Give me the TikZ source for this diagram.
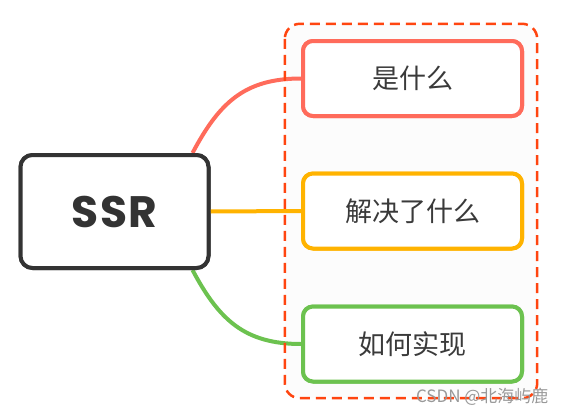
\documentclass[tikz,border=0pt]{standalone}
\usepackage{fontspec}
\newfontfamily\cjk{Noto Sans CJK SC}
\newfontfamily\popb{Poppins Bold}[LetterSpace=3]
\usetikzlibrary{calc}
\definecolor{cred}{HTML}{FF6B5B}
\definecolor{cdash}{HTML}{FF4510}
\definecolor{corange}{HTML}{FFB300}
\definecolor{cgreen}{HTML}{6CC24F}
\definecolor{ctext}{HTML}{3A3A3A}
\definecolor{cdark}{HTML}{333333}
\tikzset{
  branch/.style={rounded corners=10pt, line width=4pt, fill=white, minimum width=219pt, minimum height=75pt, inner sep=0pt, text=ctext, font=\cjk\fontsize{27}{30}\selectfont},
  central/.style={draw=cdark, line width=4pt, rounded corners=12pt, fill=white, minimum width=188pt, minimum height=113pt, inner sep=0pt, text=cdark, font=\popb\fontsize{44}{48}\selectfont},
  conn/.style={line width=4pt},
}
\begin{document}
\begin{tikzpicture}[x=1pt,y=-1pt]
\useasboundingbox (0,0) rectangle (567,415);
% dashed group background
\node[draw=none, fill=black!1, rounded corners=15pt, minimum width=252pt, minimum height=374pt, inner sep=0pt] (grp) at (411,211) {};
% central node
\node[central] (ssr) at (114.5,211.5) {SSR};
% branches
\node[branch, draw=cred] (b1) at (412.5,78.5) {是什么};
\node[branch, draw=corange] (b2) at (412.5,211) {解决了什么};
\node[branch, draw=cgreen] (b3) at (412.5,344) {如何实现};
\coordinate (s1) at ($(ssr.north east)+(-18,0)$);
\coordinate (s3) at ($(ssr.south east)+(-18,0)$);
\draw[conn, cred] (s1) to[out=62, in=180, looseness=1.1] (b1.west);
\draw[conn, corange] (ssr.east) -- (b2.west);
\draw[conn, cgreen] (s3) to[out=-62, in=180, looseness=1.1] (b3.west);
\draw[cdash, line width=2.5pt, dash pattern=on 10pt off 6pt, rounded corners=15pt] (grp.north west) rectangle (grp.south east);
% boxes on top of connectors
\node[branch, draw=cred] at (b1) {是什么};
\node[branch, draw=corange] at (b2) {解决了什么};
\node[branch, draw=cgreen] at (b3) {如何实现};
\node[central] at (ssr) {SSR};
\node[text=black!40, font=\cjk\fontsize{17}{19}\selectfont, anchor=east] (wm) at (552,397) {CSDN @北海屿鹿};
\end{tikzpicture}
\end{document}
